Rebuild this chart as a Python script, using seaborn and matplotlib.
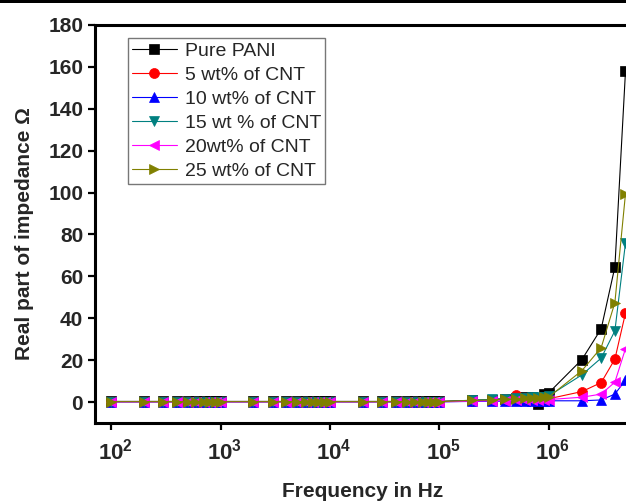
import matplotlib
matplotlib.use("Agg")
import matplotlib.pyplot as plt
from matplotlib.patches import Rectangle
from matplotlib.ticker import FixedLocator, FuncFormatter, NullLocator
from matplotlib.transforms import ScaledTranslation
import numpy as np
import seaborn as sns

# frequency grid (Hz)
freq = [100, 200, 300, 400, 500, 600, 700, 800, 900, 1000,
        2000, 3000, 4000, 5000, 6000, 7000, 8000, 9000, 10000,
        20000, 30000, 40000, 50000, 60000, 70000, 80000, 90000, 100000,
        200000, 300000, 400000, 500000, 600000, 700000, 800000, 900000, 1000000,
        2000000, 3000000, 4000000, 5000000]

# real part of impedance (ohm)
pani = [0.3, 0.3, 0.3, 0.3, 0.3, 0.3, 0.3, 0.3, 0.3, 0.3,
        0.3, 0.3, 0.3, 0.3, 0.3, 0.3, 0.3, 0.3, 0.3,
        0.3, 0.3, 0.3, 0.3, 0.3, 0.3, 0.3, 0.3, 0.3,
        0.8, 1.2, 1.6, 2.0, 2.4, 2.2, -0.8, 3.8, 4.5,
        20.3, 35.0, 64.5, 158.0]
cnt5 = [0.2, 0.2, 0.2, 0.2, 0.2, 0.2, 0.2, 0.2, 0.2, 0.2,
        0.2, 0.2, 0.2, 0.2, 0.2, 0.2, 0.2, 0.2, 0.2,
        0.2, 0.2, 0.2, 0.2, 0.2, 0.2, 0.2, 0.2, 0.2,
        0.6, 1.0, 1.5, 3.2, 1.8, 1.6, 1.2, 1.5, 1.6,
        5.0, 9.3, 20.5, 42.5]
cnt10 = [0.1, 0.1, 0.1, 0.1, 0.1, 0.1, 0.1, 0.1, 0.1, 0.1,
         0.1, 0.1, 0.1, 0.1, 0.1, 0.1, 0.1, 0.1, 0.1,
         0.1, 0.1, 0.1, 0.1, 0.1, 0.1, 0.1, 0.1, 0.1,
         0.3, 0.4, 0.4, 0.5, 0.5, 0.5, 0.5, 0.6, 0.6,
         0.6, 1.0, 3.8, 10.5]
cnt15 = [0.2, 0.2, 0.2, 0.2, 0.2, 0.2, 0.2, 0.2, 0.2, 0.2,
         0.2, 0.2, 0.2, 0.2, 0.2, 0.2, 0.2, 0.2, 0.2,
         0.2, 0.2, 0.2, 0.2, 0.2, 0.2, 0.2, 0.2, 0.2,
         0.9, 1.3, 1.6, 1.8, 2.0, 2.2, 2.4, 2.6, 3.0,
         13.0, 21.0, 34.0, 76.0]
cnt20 = [0.1, 0.1, 0.1, 0.1, 0.1, 0.1, 0.1, 0.1, 0.1, 0.1,
         0.1, 0.1, 0.1, 0.1, 0.1, 0.1, 0.1, 0.1, 0.1,
         0.1, 0.1, 0.1, 0.1, 0.1, 0.1, 0.1, 0.1, 0.1,
         0.4, 0.6, 0.7, 0.8, 0.9, 1.0, 1.0, 1.1, 1.2,
         2.3, 3.8, 9.5, 25.5]
cnt25 = [0.2, 0.2, 0.2, 0.2, 0.2, 0.2, 0.2, 0.2, 0.2, 0.2,
         0.2, 0.2, 0.2, 0.2, 0.2, 0.2, 0.2, 0.2, 0.2,
         0.2, 0.2, 0.2, 0.2, 0.2, 0.2, 0.2, 0.2, 0.2,
         0.8, 1.0, 1.3, 1.5, 1.7, 1.8, 2.0, 2.2, 2.5,
         15.0, 26.0, 47.5, 99.5]

labels = ["Pure PANI", "5 wt% of CNT", "10 wt% of CNT",
          "15 wt % of CNT", "20wt% of CNT", "25 wt% of CNT"]
series = [pani, cnt5, cnt10, cnt15, cnt20, cnt25]
colors = ["#000000", "#FF0000", "#0000FF", "#008080", "#FF00FF", "#808000"]
markers = ["s", "o", "^", "v", "<", ">"]

sns.set_style("white")
plt.rcParams["font.family"] = ["Liberation Sans", "DejaVu Sans"]
plt.rcParams["mathtext.fontset"] = "custom"
plt.rcParams["mathtext.rm"] = "Liberation Sans:bold"
plt.rcParams["mathtext.bf"] = "Liberation Sans:bold"

fig = plt.figure(figsize=(6.26, 5.01), dpi=100)
# the axes runs a little past the right edge of the image, as in the original crop
ax = fig.add_axes([0.1518, 0.1557, 0.856, 0.7944])

for vals, lab, c, m in zip(series, labels, colors, markers):
    sns.lineplot(x=freq, y=vals, ax=ax, color=c, marker=m,
                 markersize=6.5 if m == "s" else 7.2,
                 markeredgecolor=c, markeredgewidth=0.5, linewidth=0.8,
                 label=lab)

ax.set_xscale("log")
ax.set_xlim(71.4, 5.6e6)
ax.set_ylim(-10, 180)
ax.xaxis.set_major_locator(FixedLocator([1e2, 1e3, 1e4, 1e5, 1e6]))
ax.xaxis.set_minor_locator(NullLocator())
ax.xaxis.set_major_formatter(FuncFormatter(
    lambda x, p: r"$\mathbf{10^{%d}}$" % int(round(np.log10(x)))))
ax.set_yticks(range(0, 181, 20))

for side in ["left", "bottom", "top"]:
    ax.spines[side].set_linewidth(2.2)
    ax.spines[side].set_color("black")
ax.spines["right"].set_visible(False)

ax.tick_params(axis="both", which="major", direction="out", length=5,
               width=1.6, color="black", bottom=True, left=True, top=False)
ax.tick_params(axis="y", labelsize=15, pad=3.5)
ax.tick_params(axis="x", labelsize=16, pad=6.5)
for t in ax.get_yticklabels():
    t.set_fontweight("bold")
# the "10" of each decade label sits over its tick
shift = ScaledTranslation(4 / 100, 0, fig.dpi_scale_trans)
for t in ax.get_xticklabels():
    t.set_transform(t.get_transform() + shift)

ax.set_xlabel("Frequency in Hz", fontsize=15, fontweight="bold", labelpad=12)
ax.set_ylabel("Real part of impedance Ω", fontsize=15, fontweight="bold")
ax.yaxis.set_label_coords(-0.114, 0.475)

leg = ax.legend(loc="upper left", bbox_to_anchor=(0.062, 0.967),
                borderaxespad=0, fontsize=14, frameon=True, fancybox=False,
                edgecolor="#555555", handlelength=2.3, handletextpad=0.4,
                labelspacing=0.33, borderpad=0.2, numpoints=1)
leg.get_frame().set_linewidth(1.0)

# thin black band along the top edge of the image
fig.add_artist(Rectangle((0, 1 - 3 / 501), 1, 3 / 501,
                         transform=fig.transFigure, color="black", lw=0))

fig.savefig("out.png", dpi=100)
